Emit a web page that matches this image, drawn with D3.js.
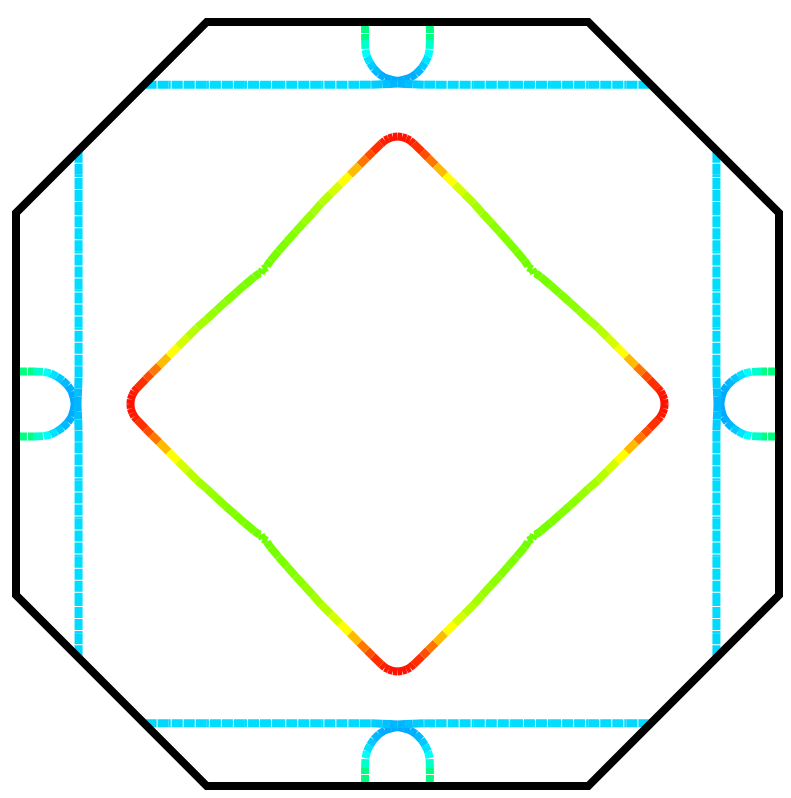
<!DOCTYPE html>
<html><head><meta charset="utf-8">
<script src="https://cdn.jsdelivr.net/npm/d3@7"></script>
<style>body{margin:0;background:#fff}svg{display:block}</style>
</head><body>
<svg id="chart" width="791" height="798"></svg>
<script>
// Brillouin-zone boundary (octagon) vertices, in reduced k units
const zoneX = [-0.5, 0.5, 1, 1, 0.5, -0.5, -1, -1];
const zoneY = [1, 1, 0.5, -0.5, -1, -1, -0.5, 0.5];

// Inner diamond sheet: one irreducible octant (left tip -> mid edge); value -> colour
const diamondX = [-0.700, -0.699, -0.695, -0.690, -0.682, -0.660, -0.645, -0.625, -0.600, -0.575, -0.550, -0.525, -0.500, -0.475, -0.450, -0.425, -0.400, -0.375, -0.362, -0.358, -0.353];
const diamondY = [0.000, 0.012, 0.023, 0.033, 0.042, 0.065, 0.080, 0.100, 0.125, 0.150, 0.175, 0.200, 0.222, 0.245, 0.268, 0.290, 0.312, 0.333, 0.342, 0.342, 0.353];
const diamondV = [0.02, 0.02, 0.025, 0.03, 0.04, 0.07, 0.11, 0.17, 0.27, 0.33, 0.37, 0.40, 0.415, 0.43, 0.44, 0.45, 0.455, 0.465, 0.47, 0.47, 0.475];

// Outer straight sheet: half of the top line (centre -> zone edge)
const lineX = [0.000, 0.020, 0.040, 0.070, 0.100, 0.200, 0.300, 0.400, 0.500, 0.600, 0.664];
const lineY = [0.839, 0.838, 0.837, 0.836, 0.836, 0.836, 0.836, 0.836, 0.836, 0.836, 0.836];
const lineV = [0.99, 0.98, 0.965, 0.95, 0.945, 0.94, 0.94, 0.94, 0.94, 0.945, 0.95];

// Small pocket at the zone face: half of the top pocket (zone edge -> bottom centre)
const pocketX = [-0.085, -0.085, -0.084, -0.080, -0.072, -0.062, -0.048, -0.033, -0.017, 0.000];
const pocketY = [0.995, 0.953, 0.927, 0.909, 0.893, 0.878, 0.864, 0.854, 0.849, 0.846];
const pocketV = [0.70, 0.80, 0.875, 0.915, 0.95, 0.975, 0.99, 1.0, 1.0, 1.0];

// Symmetry operations of the square lattice (C4v)
const ops = [
  (x, y) => [x, y], (x, y) => [-x, y], (x, y) => [x, -y], (x, y) => [-x, -y],
  (x, y) => [y, x], (x, y) => [-y, x], (x, y) => [y, -x], (x, y) => [-y, -x]
];

const svg = d3.select("#chart");
const xS = d3.scaleLinear().domain([-1, 1]).range([16, 779]);
const yS = d3.scaleLinear().domain([-1, 1]).range([786, 22]);
const hue = d3.scaleLinear().domain([0, 1]).range([0, 200]);
const col = v => d3.hsl(hue(v), 1, 0.5).formatHex();

function drawSheet(X, Y, V, g, dash) {
  ops.forEach(op => {
    for (let i = 0; i < X.length - 1; i++) {
      const [x1, y1] = op(X[i], Y[i]);
      const [x2, y2] = op(X[i + 1], Y[i + 1]);
      g.append("line")
        .attr("x1", xS(x1)).attr("y1", yS(y1))
        .attr("x2", xS(x2)).attr("y2", yS(y2))
        .attr("stroke", col((V[i] + V[i + 1]) / 2))
        .attr("stroke-width", 8)
        .attr("stroke-linecap", "butt")
        .attr("stroke-dasharray", dash);
    }
  });
}

const gP = svg.append("g");
drawSheet(pocketX, pocketY, pocketV, gP, "9,1");
const gL = svg.append("g");
drawSheet(lineX, lineY, lineV, gL, "11,1");
const gD = svg.append("g");
drawSheet(diamondX, diamondY, diamondV, gD, "14,1");

const zone = zoneX.map((x, i) => [xS(x), yS(zoneY[i])]);
svg.append("path")
  .attr("d", d3.line()(zone) + "Z")
  .attr("fill", "none")
  .attr("stroke", "#000")
  .attr("stroke-width", 8)
  .attr("stroke-linejoin", "miter");
</script>
</body></html>
